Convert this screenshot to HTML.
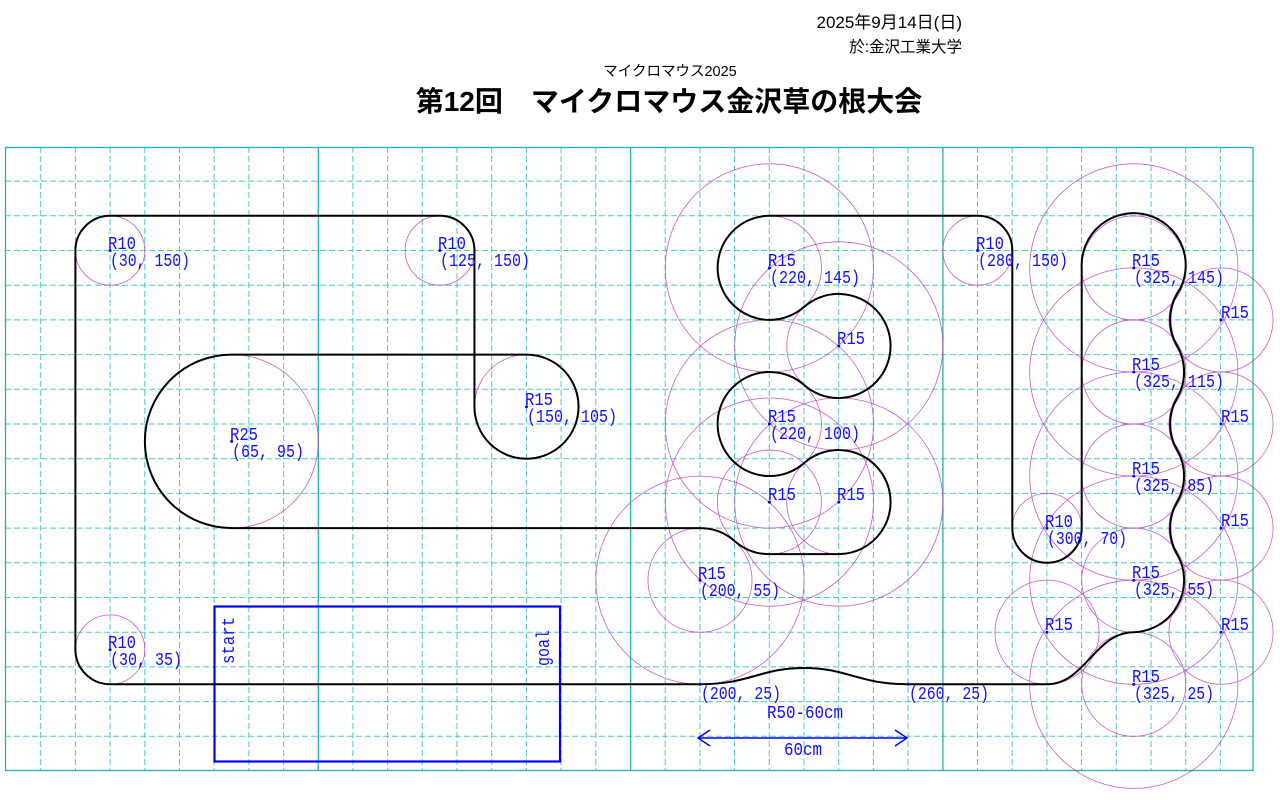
<!DOCTYPE html>
<html><head><meta charset="utf-8"><style>
html,body{margin:0;padding:0;background:#fff;width:1280px;height:800px;overflow:hidden}
svg{display:block}
.t{font-family:"Liberation Sans","Noto Sans CJK JP",sans-serif;fill:#000}
.l{font-family:"Liberation Mono","Noto Sans CJK JP",monospace;font-size:18px;fill:#1010ff}
</style></head><body>
<svg width="1280" height="800" viewBox="0 0 1280 800" xmlns="http://www.w3.org/2000/svg">
<text class="t" x="962" y="28" font-size="17" text-anchor="end">2025年9月14日(日)</text>
<text class="t" x="962" y="52" font-size="15.5" text-anchor="end">於:金沢工業大学</text>
<text class="t" x="670" y="76" font-size="14.5" text-anchor="middle">マイクロマウス2025</text>
<text class="t" x="669" y="111" font-size="28" font-weight="bold" text-anchor="middle">第12回　マイクロマウス金沢草の根大会</text>

<g id="grid" stroke="#4cc8c8" stroke-width="1" stroke-dasharray="6,3">
<path d="M40.7 147V771M75.4 147V771M110.1 147V771M144.8 147V771M179.5 147V771M214.2 147V771M248.9 147V771M283.6 147V771M352.9 147V771M387.6 147V771M422.3 147V771M457 147V771M491.7 147V771M526.4 147V771M561.1 147V771M595.8 147V771M665.2 147V771M699.9 147V771M734.6 147V771M769.3 147V771M804 147V771M838.7 147V771M873.4 147V771M908.1 147V771M977.5 147V771M1012.2 147V771M1046.9 147V771M1081.6 147V771M1116.3 147V771M1151 147V771M1185.7 147V771M1220.4 147V771"/>
<path d="M5 736.3H1253M5 701.6H1253M5 666.9H1253M5 632.2H1253M5 597.5H1253M5 562.8H1253M5 528.1H1253M5 493.4H1253M5 458.7H1253M5 424H1253M5 389.3H1253M5 354.6H1253M5 319.9H1253M5 285.2H1253M5 250.5H1253M5 215.8H1253M5 181.1H1253"/>
</g>
<g stroke="#20b4b4" stroke-width="1.3" fill="none">
<rect x="5.5" y="147.5" width="1247.5" height="623"/>
<path d="M318.3 147V771M630.6 147V771M942.9 147V771"/>
</g>

<g fill="none" stroke="#c040c0" stroke-width="0.8" opacity="0.85">
<circle cx="110.1" cy="250.5" r="34.7"/>
<circle cx="439.8" cy="250.5" r="34.7"/>
<circle cx="977.6" cy="250.5" r="34.7"/>
<circle cx="1047" cy="528.1" r="34.7"/>
<circle cx="110.1" cy="649.6" r="34.7"/>
<circle cx="231.6" cy="441.4" r="86.75"/>
<circle cx="526.5" cy="406.7" r="52.05"/>
<circle cx="769.4" cy="267.9" r="52.05"/><circle cx="769.4" cy="267.9" r="104.1"/>
<circle cx="838.8" cy="345.9" r="52.05"/><circle cx="838.8" cy="345.9" r="104.1"/>
<circle cx="769.4" cy="424" r="52.05"/><circle cx="769.4" cy="424" r="104.1"/>
<circle cx="769.4" cy="502.1" r="52.05"/><circle cx="769.4" cy="502.1" r="104.1"/>
<circle cx="838.8" cy="502.1" r="52.05"/><circle cx="838.8" cy="502.1" r="104.1"/>
<circle cx="700" cy="580.2" r="52.05"/><circle cx="700" cy="580.2" r="104.1"/>
<circle cx="1133.8" cy="267.9" r="52.05"/><circle cx="1133.8" cy="267.9" r="104.1"/>
<circle cx="1133.8" cy="372" r="52.05"/><circle cx="1133.8" cy="372" r="104.1"/>
<circle cx="1133.8" cy="476.1" r="52.05"/><circle cx="1133.8" cy="476.1" r="104.1"/>
<circle cx="1133.8" cy="580.2" r="52.05"/><circle cx="1133.8" cy="580.2" r="104.1"/>
<circle cx="1133.8" cy="684.3" r="52.05"/><circle cx="1133.8" cy="684.3" r="104.1"/>
<circle cx="1221" cy="319.9" r="52.05"/>
<circle cx="1221" cy="424" r="52.05"/>
<circle cx="1221" cy="528.1" r="52.05"/>
<circle cx="1221" cy="632.2" r="52.05"/>
<circle cx="1047" cy="632.2" r="52.05"/>
</g>

<rect x="214.5" y="606.5" width="345.5" height="155" fill="none" stroke="#0000ff" stroke-width="2.2"/>
<text class="l" transform="translate(234,664) rotate(-90)" textLength="47" lengthAdjust="spacingAndGlyphs">start</text>
<text class="l" transform="translate(549,666) rotate(-90)" textLength="36" lengthAdjust="spacingAndGlyphs">goal</text>

<path fill="none" stroke="#000" stroke-width="2" d="
M110.1 684.25 L700 684.25 C750 684.25 760 668 804 668 C848 668 858 684.25 908.2 684.25
L1047 684.25 C1085 684.25 1095 632.2 1133.75 632.2
A52.05 52.05 0 0 0 1177.1 554.1
A52.05 52.05 0 0 1 1177.1 502.1
A52.05 52.05 0 0 0 1177.1 450
A52.05 52.05 0 0 1 1177.1 398
A52.05 52.05 0 0 0 1177.1 345.9
A52.05 52.05 0 0 1 1177.1 293.9
A52.05 52.05 0 1 0 1081.7 267.85
L1081.7 528.1
A34.7 34.7 0 0 1 1012.3 528.1
L1012.3 250.5
A34.7 34.7 0 0 0 977.6 215.8
L769.4 215.8
A52.05 52.05 0 1 0 804.1 306.9
A52.05 52.05 0 1 1 804.1 385
A52.05 52.05 0 1 0 804.1 463
A52.05 52.05 0 1 1 838.8 554.1
L769.4 554.1
A52.05 52.05 0 0 1 734.7 541.1
A52.05 52.05 0 0 0 700 528.1
L231.55 528.1
A86.75 86.75 0 0 1 231.55 354.6
L526.5 354.6
A52.05 52.05 0 1 1 474.45 406.65
L474.45 250.5
A34.7 34.7 0 0 0 439.75 215.8
L110.1 215.8
A34.7 34.7 0 0 0 75.4 250.5
L75.4 649.55
A34.7 34.7 0 0 0 110.1 684.25 Z"/>

<g fill="#0000ff">
<circle cx="110.1" cy="250.5" r="1.5"/><circle cx="439.8" cy="250.5" r="1.5"/><circle cx="977.6" cy="250.5" r="1.5"/>
<circle cx="1047" cy="528.1" r="1.5"/><circle cx="110.1" cy="649.6" r="1.5"/><circle cx="231.6" cy="441.4" r="1.5"/>
<circle cx="526.5" cy="406.7" r="1.5"/><circle cx="769.4" cy="267.9" r="1.5"/><circle cx="838.8" cy="345.9" r="1.5"/>
<circle cx="769.4" cy="424" r="1.5"/><circle cx="769.4" cy="502.1" r="1.5"/><circle cx="838.8" cy="502.1" r="1.5"/>
<circle cx="700" cy="580.2" r="1.5"/><circle cx="1133.8" cy="267.9" r="1.5"/><circle cx="1133.8" cy="372" r="1.5"/>
<circle cx="1133.8" cy="476.1" r="1.5"/><circle cx="1133.8" cy="580.2" r="1.5"/><circle cx="1133.8" cy="684.3" r="1.5"/>
<circle cx="1221" cy="319.9" r="1.5"/><circle cx="1221" cy="424" r="1.5"/><circle cx="1221" cy="528.1" r="1.5"/>
<circle cx="1221" cy="632.2" r="1.5"/><circle cx="1047" cy="632.2" r="1.5"/>
<circle cx="700" cy="684.3" r="1.5"/><circle cx="908.2" cy="684.3" r="1.5"/>
</g>

<g class="l">
<text x="108" y="249" textLength="28" lengthAdjust="spacingAndGlyphs">R10</text><text x="110" y="266" textLength="80" lengthAdjust="spacingAndGlyphs">(30, 150)</text>
<text x="438" y="249" textLength="28" lengthAdjust="spacingAndGlyphs">R10</text><text x="440" y="266" textLength="90" lengthAdjust="spacingAndGlyphs">(125, 150)</text>
<text x="976" y="249" textLength="28" lengthAdjust="spacingAndGlyphs">R10</text><text x="978" y="266" textLength="90" lengthAdjust="spacingAndGlyphs">(280, 150)</text>
<text x="1045" y="527" textLength="28" lengthAdjust="spacingAndGlyphs">R10</text><text x="1047" y="544" textLength="80" lengthAdjust="spacingAndGlyphs">(300, 70)</text>
<text x="108" y="648" textLength="28" lengthAdjust="spacingAndGlyphs">R10</text><text x="110" y="665" textLength="72" lengthAdjust="spacingAndGlyphs">(30, 35)</text>
<text x="230" y="440" textLength="28" lengthAdjust="spacingAndGlyphs">R25</text><text x="232" y="457" textLength="72" lengthAdjust="spacingAndGlyphs">(65, 95)</text>
<text x="525" y="405" textLength="28" lengthAdjust="spacingAndGlyphs">R15</text><text x="527" y="422" textLength="90" lengthAdjust="spacingAndGlyphs">(150, 105)</text>
<text x="768" y="266" textLength="28" lengthAdjust="spacingAndGlyphs">R15</text><text x="770" y="283" textLength="90" lengthAdjust="spacingAndGlyphs">(220, 145)</text>
<text x="768" y="422" textLength="28" lengthAdjust="spacingAndGlyphs">R15</text><text x="770" y="439" textLength="90" lengthAdjust="spacingAndGlyphs">(220, 100)</text>
<text x="698" y="579" textLength="28" lengthAdjust="spacingAndGlyphs">R15</text><text x="700" y="596" textLength="80" lengthAdjust="spacingAndGlyphs">(200, 55)</text>
<text x="1132" y="266" textLength="28" lengthAdjust="spacingAndGlyphs">R15</text><text x="1134" y="283" textLength="90" lengthAdjust="spacingAndGlyphs">(325, 145)</text>
<text x="1132" y="370" textLength="28" lengthAdjust="spacingAndGlyphs">R15</text><text x="1134" y="387" textLength="90" lengthAdjust="spacingAndGlyphs">(325, 115)</text>
<text x="1132" y="474" textLength="28" lengthAdjust="spacingAndGlyphs">R15</text><text x="1134" y="491" textLength="80" lengthAdjust="spacingAndGlyphs">(325, 85)</text>
<text x="1132" y="578" textLength="28" lengthAdjust="spacingAndGlyphs">R15</text><text x="1134" y="595" textLength="80" lengthAdjust="spacingAndGlyphs">(325, 55)</text>
<text x="1132" y="682" textLength="28" lengthAdjust="spacingAndGlyphs">R15</text><text x="1134" y="699" textLength="80" lengthAdjust="spacingAndGlyphs">(325, 25)</text>
<text x="837" y="344" textLength="28" lengthAdjust="spacingAndGlyphs">R15</text>
<text x="768" y="500" textLength="28" lengthAdjust="spacingAndGlyphs">R15</text>
<text x="837" y="500" textLength="28" lengthAdjust="spacingAndGlyphs">R15</text>
<text x="1045" y="630" textLength="28" lengthAdjust="spacingAndGlyphs">R15</text>
<text x="1221" y="318" textLength="28" lengthAdjust="spacingAndGlyphs">R15</text>
<text x="1221" y="422" textLength="28" lengthAdjust="spacingAndGlyphs">R15</text>
<text x="1221" y="526" textLength="28" lengthAdjust="spacingAndGlyphs">R15</text>
<text x="1221" y="630" textLength="28" lengthAdjust="spacingAndGlyphs">R15</text>
<text x="701" y="699" textLength="80" lengthAdjust="spacingAndGlyphs">(200, 25)</text>
<text x="909" y="699" textLength="80" lengthAdjust="spacingAndGlyphs">(260, 25)</text>
<text x="767" y="718" textLength="76" lengthAdjust="spacingAndGlyphs">R50-60cm</text>
<text x="784" y="755" textLength="38" lengthAdjust="spacingAndGlyphs">60cm</text>
</g>
<g stroke="#0000ff" stroke-width="1.5" fill="none">
<path d="M698 738H907M710 730L698 738L710 746M895 730L907 738L895 746"/>
</g>
</svg>
</body></html>
